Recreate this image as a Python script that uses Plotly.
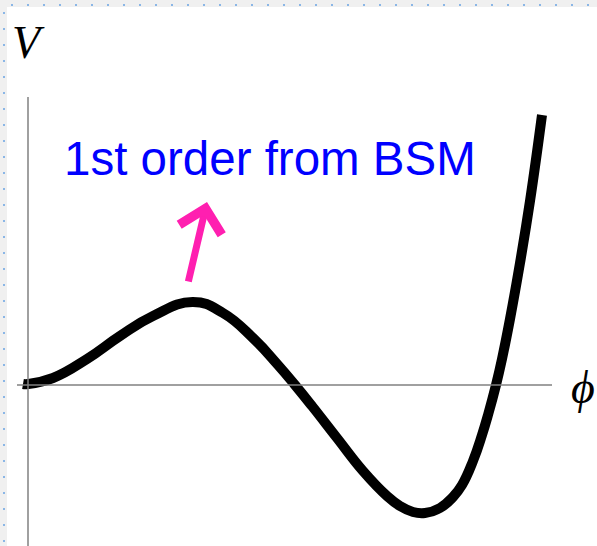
"""
Sketch of a scalar potential V(phi) with a first-order transition shape.
"""

import plotly.graph_objects as go

# Potential curve (phi, V)
PHI = [-0.05, 0.0, 0.25, 0.59, 0.92, 1.25, 1.65, 1.95, 2.25, 2.50,
       2.67, 2.84, 3.09, 3.35, 3.59, 3.72, 3.85, 3.97, 4.12, 4.25,
       4.34, 4.45, 4.54, 4.60, 4.68, 4.74, 4.82, 4.92, 5.02, 5.14]
V = [0.01, 0.01, 0.07, 0.26, 0.49, 0.69, 0.83, 0.72, 0.47, 0.20,
     0.0, -0.21, -0.53, -0.86, -1.11, -1.21, -1.27, -1.28, -1.23, -1.12,
     -1.00, -0.76, -0.50, -0.30, 0.0, 0.26, 0.66, 1.22, 1.84, 2.70]

LABEL = "1st order from BSM"
ARROW_TAIL = (1.60, 1.02)
ARROW_TIP = (1.79, 1.83)

W, H = 597, 546
X_RANGE = [-0.28, 5.69]
Y_RANGE = [-1.61, 3.85]

COLORS = {
    "curve": "#000000",
    "axis": "#808080",
    "label": "#0000ff",
    "arrow": "#ff1fb0",
    "frame": "#f0f0f0",
    "dots": "#8ab6e6",
}

fig = go.Figure(go.Scatter(
    x=PHI,
    y=V,
    mode="lines",
    line=dict(color=COLORS["curve"], width=10, shape="spline", smoothing=1.3),
    hoverinfo="skip",
))

shapes = [
    # axes
    dict(type="line", xref="x", yref="y", x0=-0.11, x1=5.24, y0=0, y1=0,
         line=dict(color=COLORS["axis"], width=1.5)),
    dict(type="line", xref="x", yref="y", x0=0, x1=0, y0=2.88, y1=Y_RANGE[0],
         line=dict(color=COLORS["axis"], width=1.5)),
    # slide frame bands
    dict(type="rect", xref="paper", yref="paper", x0=0, x1=1,
         y0=1 - 7 / H, y1=1, fillcolor=COLORS["frame"], line_width=0, layer="below"),
    dict(type="rect", xref="paper", yref="paper", x0=0, x1=7 / W,
         y0=0, y1=1, fillcolor=COLORS["frame"], line_width=0, layer="below"),
]

# little guide dots along the frame
for px in range(12, W, 16):
    shapes.append(dict(type="rect", xref="paper", yref="paper",
                       x0=(px - 1) / W, x1=(px + 1) / W,
                       y0=1 - 6 / H, y1=1 - 4 / H,
                       fillcolor=COLORS["dots"], line_width=0))
for py in range(13, H, 16):
    shapes.append(dict(type="rect", xref="paper", yref="paper",
                       x0=3 / W, x1=5 / W,
                       y0=1 - (py + 1) / H, y1=1 - (py - 1) / H,
                       fillcolor=COLORS["dots"], line_width=0))

annotations = [
    dict(x=0.0, y=3.43, xref="x", yref="y", text="<i>V</i>", showarrow=False,
         font=dict(family="Liberation Serif", size=46, color="#000000")),
    dict(x=5.55, y=-0.02, xref="x", yref="y", text="<i>ϕ</i>", showarrow=False,
         font=dict(family="Liberation Serif", size=46, color="#000000")),
    dict(x=2.42, y=2.27, xref="x", yref="y", text=LABEL, showarrow=False,
         font=dict(family="Liberation Sans", size=47.5, color=COLORS["label"])),
    dict(x=ARROW_TIP[0], y=ARROW_TIP[1], ax=ARROW_TAIL[0], ay=ARROW_TAIL[1],
         xref="x", yref="y", axref="x", ayref="y", text="",
         showarrow=True, arrowhead=4, arrowsize=1.2, arrowwidth=7,
         arrowcolor=COLORS["arrow"], standoff=0),
]

fig.update_layout(
    width=W,
    height=H,
    margin=dict(l=0, r=0, t=0, b=0),
    paper_bgcolor="white",
    plot_bgcolor="white",
    showlegend=False,
    xaxis=dict(range=X_RANGE, visible=False, fixedrange=True),
    yaxis=dict(range=Y_RANGE, visible=False, fixedrange=True),
    shapes=shapes,
    annotations=annotations,
)

fig.write_html(
    "out.html",
    config={"displayModeBar": False},
    post_script="document.body.style.margin='0';",
)
